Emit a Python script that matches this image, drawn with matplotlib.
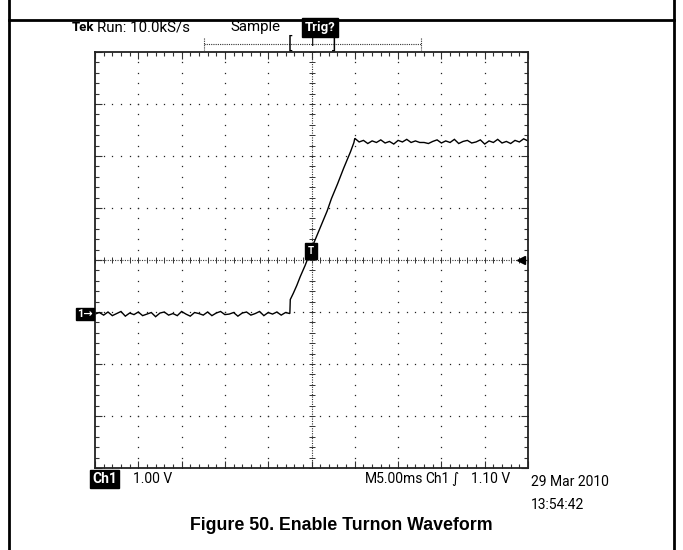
import numpy as np
import matplotlib
matplotlib.use("Agg")
import matplotlib.pyplot as plt
from matplotlib.lines import Line2D
from matplotlib.transforms import blended_transform_factory

# ---------------- data (ms, volts) ----------------
ground_offset_div = 1.04  # Ch1 ground marker position below centre (divisions)
volts_per_div = 1.00
ms_per_div = 5.0
trigger_level = 1.10

low_t = [-25.0, -24.5, -24.0, -23.5, -23.0, -22.5, -22.0, -21.5, -21.0, -20.5,
         -20.0, -19.5, -19.0, -18.5, -18.0, -17.5, -17.0, -16.5, -16.0, -15.5,
         -15.0, -14.5, -14.0, -13.5, -13.0, -12.5, -12.0, -11.5, -11.0, -10.5,
         -10.0, -9.5, -9.0, -8.5, -8.0, -7.5, -7.0, -6.5, -6.0, -5.5,
         -5.0, -4.5, -4.0, -3.5, -3.0, -2.5]
low_v = [0.00, 0.03, -0.02, 0.04, -0.03, 0.01, 0.05, -0.04, 0.02, -0.01,
         0.04, -0.03, 0.00, 0.03, -0.05, 0.02, 0.04, -0.02, 0.01, -0.03,
         0.05, 0.00, -0.04, 0.03, 0.01, -0.02, 0.04, -0.03, 0.02, 0.05,
         -0.01, 0.00, 0.03, -0.04, 0.02, 0.04, -0.02, 0.01, 0.05, -0.03,
         0.03, 0.00, 0.04, -0.02, 0.03, 0.01]

ramp_t = [-2.45, -2.1, -1.7, -1.3, -0.75, -0.35, 0.0, 0.6, 1.2, 1.8,
          2.3, 3.0, 3.7, 4.2, 4.5, 4.9]
ramp_v = [0.28, 0.40, 0.55, 0.72, 0.93, 1.10, 1.26, 1.50, 1.74, 1.98,
          2.22, 2.50, 2.80, 3.00, 3.12, 3.30]

high_t = [5.0, 5.5, 6.0, 6.5, 7.0, 7.5, 8.0, 8.5, 9.0, 9.5,
          10.0, 10.5, 11.0, 11.5, 12.0, 12.5, 13.0, 13.5, 14.0, 14.5,
          15.0, 15.5, 16.0, 16.5, 17.0, 17.5, 18.0, 18.5, 19.0, 19.5,
          20.0, 20.5, 21.0, 21.5, 22.0, 22.5, 23.0, 23.5, 24.0, 24.5, 25.0]
high_v = [3.38, 3.31, 3.34, 3.28, 3.33, 3.30, 3.35, 3.29, 3.32, 3.27,
          3.34, 3.31, 3.36, 3.30, 3.33, 3.30, 3.30, 3.28, 3.32, 3.35,
          3.29, 3.33, 3.30, 3.36, 3.28, 3.32, 3.34, 3.29, 3.31, 3.35,
          3.27, 3.33, 3.30, 3.36, 3.29, 3.32, 3.28, 3.34, 3.31, 3.37, 3.33]

header_texts = ["Tek", "Run: 10.0kS/s", "Sample", "Trig?"]
footer_texts = ["Ch1", "1.00 V", "M5.00ms", "Ch1", "1.10 V", "29 Mar 2010", "13:54:42"]
title = "Figure 50. Enable Turnon Waveform"

# ---------------- figure ----------------
W, H = 683, 550
fig = plt.figure(figsize=(W / 100, H / 100), dpi=100)
fig.patch.set_facecolor("white")

def fx(x):
    return x / W

def fy(y):
    return 1 - y / H

SCOPE = ["Roboto", "DejaVu Sans"]

# graticule axes
ax = fig.add_axes([fx(95), fy(468), fx(528) - fx(95), fy(52) - fy(468)])
G = ground_offset_div * volts_per_div
xlo, xhi = -5 * ms_per_div, 5 * ms_per_div
ylo, yhi = -4 * volts_per_div + G, 4 * volts_per_div + G
ax.set_xlim(xlo, xhi)
ax.set_ylim(ylo, yhi)

# grid dots
dot_kw = dict(color="#222222", ls="none", marker="s", ms=0.9, mew=0)
ysub = np.arange(ylo, yhi + 1e-6, 0.2 * volts_per_div)
xsub = np.arange(xlo, xhi + 1e-6, 0.2 * ms_per_div)
for k in range(-4, 5):
    if k == 0:
        continue
    xv = k * ms_per_div
    ax.plot(np.full_like(ysub, xv), ysub, **dot_kw)
for k in range(-3, 4):
    if k == 0:
        continue
    yv = G + k * volts_per_div
    ax.plot(xsub, np.full_like(xsub, yv), **dot_kw)

# centre lines (dense dotted + ticks)
ax.axhline(G, color="#333333", lw=0.8, ls=(0, (1, 1.2)))
ax.axvline(0, color="#333333", lw=0.8, ls=(0, (1, 1.2)))
ax.plot(xsub, np.full_like(xsub, G), ls="none", marker="|", ms=5, mew=0.7, color="#333333")
ax.plot(np.zeros_like(ysub), ysub, ls="none", marker="_", ms=5, mew=0.7, color="#333333")

# border ticks
ax.set_xticks(np.arange(xlo, xhi + 1e-6, ms_per_div))
ax.set_xticks(xsub, minor=True)
ax.set_yticks(np.arange(ylo, yhi + 1e-6, volts_per_div))
ax.set_yticks(ysub, minor=True)
ax.tick_params(which="both", direction="in", top=True, right=True,
               labelbottom=False, labelleft=False, color="#333333", width=0.8)
ax.tick_params(which="major", length=5)
ax.tick_params(which="minor", length=3)
for s in ax.spines.values():
    s.set_linewidth(1.3)
    s.set_color("#222222")

# waveform
t_all = low_t + ramp_t + high_t
v_all = low_v + ramp_v + high_v
ax.plot(t_all, v_all, color="black", lw=1.0, solid_joinstyle="miter")

# trigger position marker 'T'
ax.text(-0.1, G + 0.17, "T", color="white", fontsize=7, fontweight="bold",
        ha="center", va="center", family=SCOPE,
        bbox=dict(boxstyle="square,pad=0.3", fc="black", ec="black"))

# trigger level arrow on the right
trans_r = blended_transform_factory(ax.transAxes, ax.transData)
ax.plot([0.983], [trigger_level - 0.06], marker="<", ms=6, color="black",
        transform=trans_r, clip_on=False)
# Ch1 ground marker
ax.text(-0.005, 0.0, "1\u2192", color="white", fontsize=8, fontweight="bold",
        ha="right", va="center", family=SCOPE, transform=trans_r,
        bbox=dict(boxstyle="square,pad=0.1", fc="black", ec="black"))

# ---------------- page frame ----------------
fig.add_artist(Line2D([fx(9), fx(9)], [0, 1], color="black", lw=2))
fig.add_artist(Line2D([fx(674), fx(674)], [0, 1], color="black", lw=2))
fig.add_artist(Line2D([fx(9), fx(674)], [fy(20), fy(20)], color="black", lw=2))

# ---------------- header ----------------
fs = 10
hfs = 10.8
hb = 31  # header baseline (px from top)
fig.text(fx(72), fy(hb), header_texts[0], fontsize=9.5, fontweight="bold",
         family=SCOPE, va="baseline", ha="left")
fig.text(fx(97), fy(hb), header_texts[1], fontsize=hfs, family=SCOPE, va="baseline", ha="left")
fig.text(fx(230), fy(hb), header_texts[2], fontsize=hfs, family=SCOPE, va="baseline", ha="left")
fig.text(fx(305), fy(hb), header_texts[3], fontsize=9.5, fontweight="bold", color="white",
         family=SCOPE, va="baseline", ha="left",
         bbox=dict(boxstyle="square,pad=0.2", fc="black", ec="black"))

# record window bracket
fig.add_artist(Line2D([fx(204), fx(421)], [fy(44), fy(44)], color="#333333", lw=0.8, ls=(0, (1, 1))))
for xe in (204, 421):
    fig.add_artist(Line2D([fx(xe), fx(xe)], [fy(38), fy(50)], color="#333333", lw=0.8, ls=(0, (1, 1))))
fig.text(fx(290), fy(44), "[", fontsize=12, family=SCOPE, va="center", ha="center")
fig.text(fx(334), fy(44), "]", fontsize=12, family=SCOPE, va="center", ha="center")
fig.text(fx(312), fy(43), "T", fontsize=9, family=SCOPE, va="center", ha="center")

# ---------------- footer ----------------
fb = 483  # footer baseline
fig.text(fx(92), fy(fb), footer_texts[0], fontsize=fs, fontweight="bold", color="white",
         family=SCOPE, va="baseline", ha="left",
         bbox=dict(boxstyle="square,pad=0.15", fc="black", ec="black"))
fig.text(fx(133), fy(fb), footer_texts[1], fontsize=fs, family=SCOPE, va="baseline", ha="left")
fig.text(fx(365), fy(fb), footer_texts[2], fontsize=fs, family=SCOPE, va="baseline", ha="left")
fig.text(fx(425), fy(fb), footer_texts[3], fontsize=fs, family=SCOPE, va="baseline", ha="left")
fig.text(fx(451), fy(fb), "\u222b", fontsize=fs, family=["DejaVu Sans"], va="baseline", ha="left")
fig.text(fx(510), fy(fb), footer_texts[4], fontsize=fs, family=SCOPE, va="baseline", ha="right")
fig.text(fx(531), fy(486), footer_texts[5], fontsize=fs, family=SCOPE, va="baseline", ha="left")
fig.text(fx(531), fy(509), footer_texts[6], fontsize=fs, family=SCOPE, va="baseline", ha="left")

fig.text(0.5, fy(525), title, fontsize=12.8, fontweight="bold",
         family=["Liberation Sans", "DejaVu Sans"], va="center", ha="center")

fig.savefig("out.png", dpi=100, facecolor="white")
